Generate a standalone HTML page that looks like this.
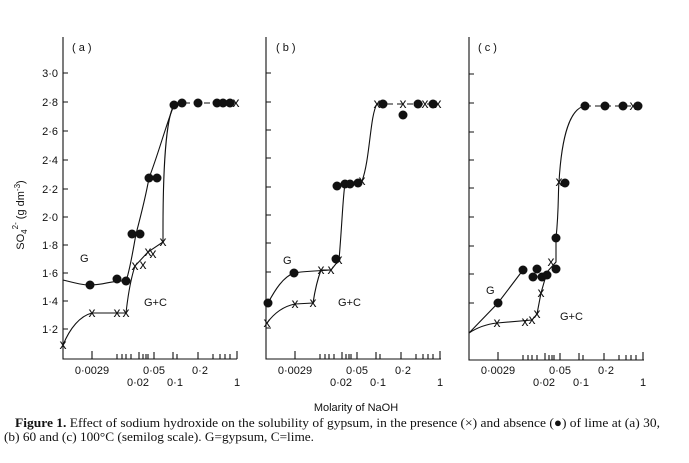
<!DOCTYPE html>
<html><head><meta charset="utf-8"><style>
html,body{margin:0;padding:0;background:#fff}
svg{display:block}
.t{font-family:"Liberation Sans",sans-serif;font-size:11px;fill:#111}
.c{font-family:"Liberation Serif",serif;font-size:13px;fill:#111}
</style></head><body>
<svg width="689" height="463" viewBox="0 0 689 463" xmlns="http://www.w3.org/2000/svg">
<g stroke="#111" stroke-width="1.1" fill="none">
<path d="M63,37 V359 H237"/>
<path d="M63,73h5M63,102h5M63,131h5M63,160h5M63,189h5M63,217h5M63,245h5M63,273h5M63,301h5M63,329h5"/>
<g id="tk"><path d="M92,359v-8M117,359v-5M122,359v-5M126,359v-5M131,359v-5M139,359v-7M143,359v-5M146,359v-5M148,359v-5M154,359v-7M173,359v-7M177,359v-5M198,359v-7M213,359v-5M220,359v-5M225,359v-5M230,359v-5M237,359v-8"/></g>
<path d="M266,37 V359 H441"/>
<path d="M266,73h5M266,102h5M266,130h5M266,158h5M266,187h5M266,215h5M266,243h5M266,272h5M266,300h5M266,328h5"/>
<use href="#tk" transform="translate(203,0)"/>
<path d="M469,37 V360 H644"/>
<path d="M469,74h5M469,103h5M469,132h5M469,160h5M469,188h5M469,217h5M469,246h5M469,274h5M469,303h5"/>
<use href="#tk" transform="translate(406,1)"/>

<path d="M63,280 C75,283 82,285 90,285 C105,285 112,280 126,281 C130,270 133,250 136,234 C141,215 146,195 149,178 C158,155 166,125 174,105"/>
<path d="M63,345 C70,328 80,316 92,313 L126,313 C128,295 131,278 135,266 L148,252 L163,242 V230 C163,150 168,115 174,105"/>
<path d="M174,103 H236" stroke-dasharray="6,4"/>
<path d="M268,303 C275,290 283,277 294,273 C305,271 318,271 331,270 L339,260 C342,225 343,195 345,184 L362,181 C370,160 370,115 377,104"/>
<path d="M267,323 C275,312 285,306 295,304 L313,303 C315,290 318,278 321,270 L331,270"/>
<path d="M377,104 H438" stroke-dasharray="6,4"/>
<path d="M469,333 L498,303 L523,270"/>
<path d="M469,333 C478,327 488,324 497,323 L532,320 L537,314 L541,293 L547,272 L556,262 L556,238 C559,210 558,190 559,182 C562,130 572,108 585,106"/>
<path d="M585,106 H638" stroke-dasharray="6,4"/>
</g>

<g fill="#111">
<circle cx="90" cy="285" r="4.5"/><circle cx="117" cy="279" r="4.5"/><circle cx="126" cy="281" r="4.5"/>
<circle cx="132" cy="234" r="4.5"/><circle cx="140" cy="234" r="4.5"/><circle cx="149" cy="178" r="4.5"/><circle cx="157" cy="178" r="4.5"/>
<circle cx="174" cy="105" r="4.5"/><circle cx="182" cy="103" r="4.5"/><circle cx="198" cy="103" r="4.5"/><circle cx="217" cy="103" r="4.5"/><circle cx="223" cy="103" r="4.5"/><circle cx="230" cy="103" r="4.5"/>
<circle cx="268" cy="303" r="4.5"/><circle cx="294" cy="273" r="4.5"/><circle cx="336" cy="259" r="4.5"/>
<circle cx="337" cy="186" r="4.5"/><circle cx="345" cy="184" r="4.5"/><circle cx="350" cy="184" r="4.5"/><circle cx="358" cy="183" r="4.5"/>
<circle cx="383" cy="104" r="4.5"/><circle cx="403" cy="115" r="4.5"/><circle cx="418" cy="104" r="4.5"/><circle cx="433" cy="104" r="4.5"/>
<circle cx="498" cy="303" r="4.5"/><circle cx="523" cy="270" r="4.5"/><circle cx="533" cy="277" r="4.5"/><circle cx="537" cy="269" r="4.5"/>
<circle cx="542" cy="277" r="4.5"/><circle cx="547" cy="275" r="4.5"/><circle cx="556" cy="269" r="4.5"/><circle cx="556" cy="238" r="4.5"/>
<circle cx="565" cy="183" r="4.5"/><circle cx="585" cy="106" r="4.5"/><circle cx="605" cy="106" r="4.5"/><circle cx="623" cy="106" r="4.5"/><circle cx="638" cy="106" r="4.5"/>
</g>

<g fill="#111" font-family="Liberation Sans,sans-serif" font-size="14" text-anchor="middle" dominant-baseline="central">
<text x="63" y="344">x</text><text x="92" y="312">x</text><text x="117" y="312">x</text><text x="126" y="312">x</text>
<text x="135" y="265">x</text><text x="143" y="264">x</text><text x="148" y="251">x</text><text x="153" y="253">x</text><text x="163" y="241">x</text><text x="236" y="102">x</text>
<text x="267" y="322">x</text><text x="295" y="303">x</text><text x="313" y="302">x</text><text x="321" y="269">x</text><text x="331" y="269">x</text>
<text x="339" y="259">x</text><text x="362" y="180">x</text><text x="377" y="103">x</text><text x="403" y="103">x</text><text x="425" y="103">x</text><text x="438" y="103">x</text>
<text x="497" y="322">x</text><text x="525" y="321">x</text><text x="532" y="319">x</text><text x="537" y="313">x</text><text x="541" y="292">x</text>
<text x="551" y="261">x</text><text x="559" y="181">x</text><text x="633" y="105">x</text>
</g>

<g class="t">
<text x="72" y="51">( a )</text><text x="276" y="51">( b )</text><text x="478" y="51">( c )</text>
<g text-anchor="end">
<text x="58" y="77">3·0</text><text x="58" y="106">2·8</text><text x="58" y="135">2·6</text><text x="58" y="164">2·4</text><text x="58" y="193">2·2</text>
<text x="58" y="221">2·0</text><text x="58" y="249">1·8</text><text x="58" y="277">1·6</text><text x="58" y="305">1·4</text><text x="58" y="333">1·2</text>
</g>
<text x="80" y="262">G</text><text x="144" y="306">G+C</text>
<text x="283" y="264">G</text><text x="338" y="306">G+C</text>
<text x="486" y="294">G</text><text x="560" y="320">G+C</text>
<g text-anchor="middle">
<text x="92" y="374">0·0029</text><text x="154" y="374">0·05</text><text x="200" y="374">0·2</text>
<text x="138" y="386">0·02</text><text x="175" y="386">0·1</text><text x="237" y="386">1</text>
<text x="295" y="374">0·0029</text><text x="357" y="374">0·05</text><text x="403" y="374">0·2</text>
<text x="341" y="386">0·02</text><text x="378" y="386">0·1</text><text x="440" y="386">1</text>
<text x="498" y="374">0·0029</text><text x="560" y="374">0·05</text><text x="606" y="374">0·2</text>
<text x="544" y="386">0·02</text><text x="581" y="386">0·1</text><text x="643" y="386">1</text>
<text x="356" y="411">Molarity of NaOH</text>
</g>
<text transform="translate(24,215) rotate(-90)" text-anchor="middle">SO<tspan font-size="8" dy="3">4</tspan><tspan font-size="8" dy="-9">2-</tspan><tspan dy="6"> (g dm</tspan><tspan font-size="8" dy="-4">-3</tspan><tspan dy="4">)</tspan></text>
</g>
<text class="c" x="15" y="427" textLength="645" lengthAdjust="spacingAndGlyphs"><tspan font-weight="bold">Figure 1.</tspan> Effect of sodium hydroxide on the solubility of gypsum, in the presence (×) and absence (●) of lime at (a) 30,</text>
<text class="c" x="4" y="441" textLength="310" lengthAdjust="spacingAndGlyphs">(b) 60 and (c) 100°C (semilog scale). G=gypsum, C=lime.</text>
</svg>
</body></html>
